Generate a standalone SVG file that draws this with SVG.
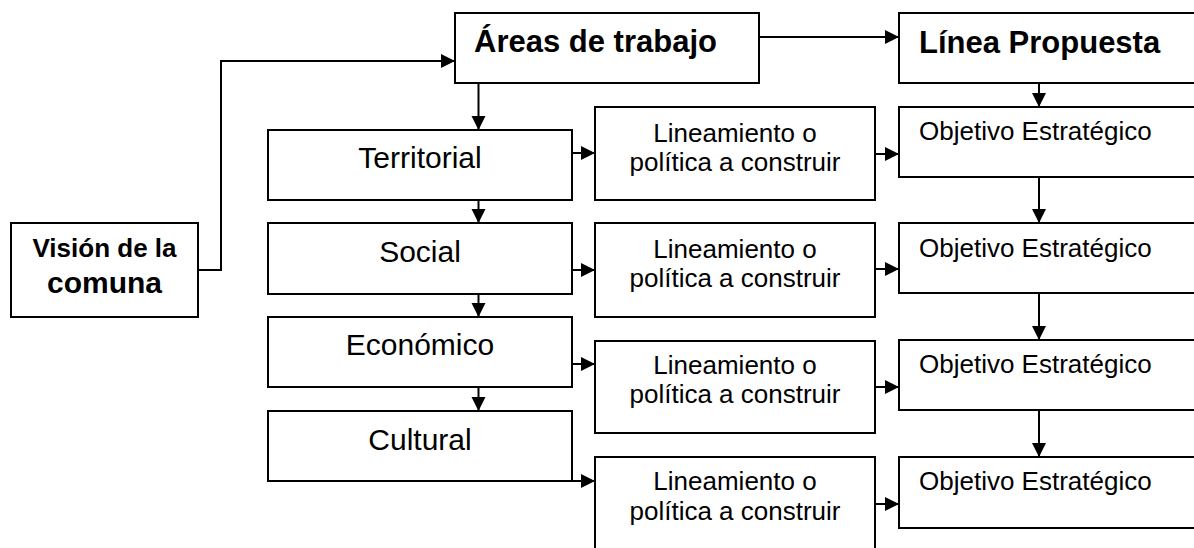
<svg xmlns="http://www.w3.org/2000/svg" width="1194" height="548" viewBox="0 0 1194 548">
<style>
.box{fill:#fff;stroke:#000;stroke-width:2}
.t{font-family:"Liberation Sans",Arial,sans-serif;fill:#000}
.b{font-weight:bold}
.c{text-anchor:middle}
.conn path{fill:none;stroke:#000;stroke-width:2;marker-end:url(#ah)}
</style>
<defs>
<marker id="ah" markerUnits="userSpaceOnUse" markerWidth="15" markerHeight="15" refX="14" refY="7" orient="auto">
<path d="M0,0 L14,7 L0,14 z" fill="#000"/>
</marker>
</defs>
<rect width="1194" height="548" fill="#fff"/>
<g id="vision"><rect class="box" x="11" y="223" width="187" height="94"/>
<text class="t b c" x="104.5" y="257" font-size="26">Visión de la</text>
<text class="t b c" x="104.5" y="293" font-size="30">comuna</text></g>
<g id="areas"><rect class="box" x="455" y="13" width="304" height="70"/>
<text class="t b" x="474" y="52" font-size="31">Áreas de trabajo</text></g>
<g id="linea"><rect class="box" x="899" y="13" width="310" height="70"/>
<text class="t b" x="919" y="53" font-size="31">Línea Propuesta</text></g>
<g id="territorial"><rect class="box" x="268" y="130" width="304" height="70"/>
<text class="t c" x="420" y="168" font-size="30">Territorial</text></g>
<g id="social"><rect class="box" x="268" y="223" width="304" height="71"/>
<text class="t c" x="420" y="262" font-size="30">Social</text></g>
<g id="economico"><rect class="box" x="268" y="317" width="304" height="70"/>
<text class="t c" x="420" y="355" font-size="30">Económico</text></g>
<g id="cultural"><rect class="box" x="268" y="411" width="304" height="70"/>
<text class="t c" x="420" y="450" font-size="30">Cultural</text></g>
<g id="lin1"><rect class="box" x="595" y="107" width="280" height="93"/>
<text class="t c" x="735" y="142" font-size="26">Lineamiento o</text>
<text class="t c" x="735" y="171" font-size="26">política a construir</text></g>
<g id="lin2"><rect class="box" x="595" y="223" width="280" height="94"/>
<text class="t c" x="735" y="258" font-size="26">Lineamiento o</text>
<text class="t c" x="735" y="287" font-size="26">política a construir</text></g>
<g id="lin3"><rect class="box" x="595" y="341" width="280" height="92"/>
<text class="t c" x="735" y="374" font-size="26">Lineamiento o</text>
<text class="t c" x="735" y="403" font-size="26">política a construir</text></g>
<g id="lin4"><rect class="box" x="595" y="457" width="280" height="100"/>
<text class="t c" x="735" y="490" font-size="26">Lineamiento o</text>
<text class="t c" x="735" y="520" font-size="26">política a construir</text></g>
<g id="obj1"><rect class="box" x="899" y="107" width="310" height="70"/>
<text class="t" x="919" y="140" font-size="26">Objetivo Estratégico</text></g>
<g id="obj2"><rect class="box" x="899" y="223" width="310" height="70"/>
<text class="t" x="919" y="257" font-size="26">Objetivo Estratégico</text></g>
<g id="obj3"><rect class="box" x="899" y="340" width="310" height="70"/>
<text class="t" x="919" y="373" font-size="26">Objetivo Estratégico</text></g>
<g id="obj4"><rect class="box" x="899" y="457" width="310" height="71"/>
<text class="t" x="919" y="490" font-size="26">Objetivo Estratégico</text></g>
<g id="connectors" class="conn">
<path d="M198,270 H221 V61 H455"/>
<path d="M478.5,83 V130"/>
<path d="M478.5,200 V223"/>
<path d="M478.5,294 V317"/>
<path d="M478.5,387 V411"/>
<path d="M759,37 H899"/>
<path d="M1039,83 V107"/>
<path d="M1039,177 V223"/>
<path d="M1039,293 V340"/>
<path d="M1039,410 V457"/>
<path d="M572,153 H595"/>
<path d="M572,270 H595"/>
<path d="M572,364 H595"/>
<path d="M572,481 H595"/>
<path d="M875,154 H899"/>
<path d="M875,269 H899"/>
<path d="M875,387 H899"/>
<path d="M875,504 H899"/>
</g>
</svg>
